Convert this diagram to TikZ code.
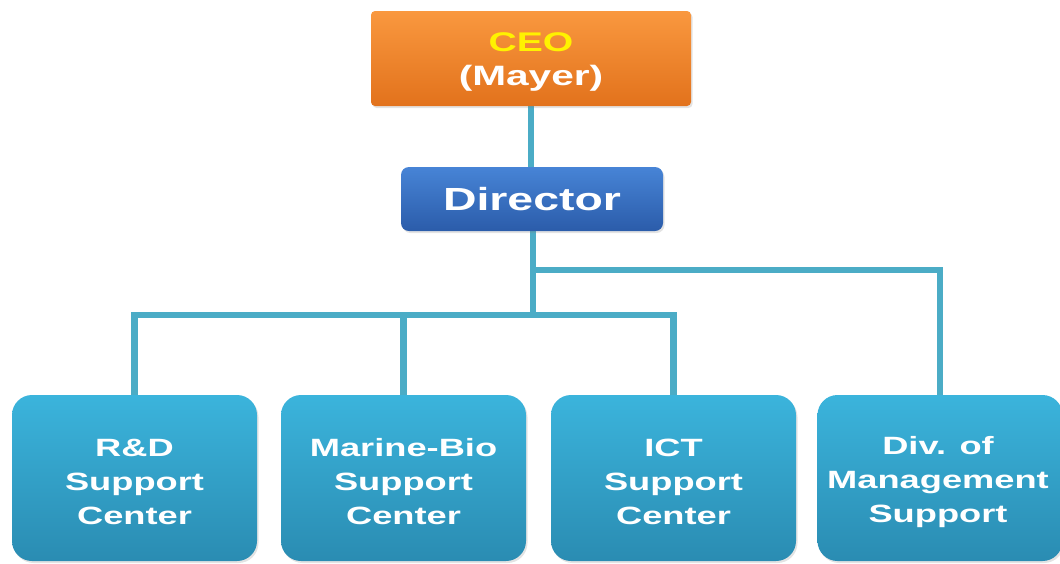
\documentclass[tikz,border=0pt]{standalone}
\usepackage{fontspec}
\setmainfont{Liberation Sans}
\usetikzlibrary{shadows,backgrounds}
\definecolor{ceoTop}{HTML}{F9983F}
\definecolor{ceoBot}{HTML}{E2721C}
\definecolor{dirTop}{HTML}{4784D6}
\definecolor{dirBot}{HTML}{2B5CAA}
\definecolor{unitTop}{HTML}{3BB4DC}
\definecolor{unitBot}{HTML}{2A8CB2}
\definecolor{conn}{HTML}{4BACC6}
\definecolor{ceoText}{HTML}{FFF200}
\newcommand\sx[1]{\scalebox{1.45}[1]{#1}}
\begin{document}
\begin{tikzpicture}[x=1pt,y=-1pt,
  box/.style={draw=none,inner sep=0pt,text=white,font=\bfseries,
    drop shadow={opacity=0.22,shadow xshift=1.5pt,shadow yshift=-2pt}},
  ceobox/.style={box,top color=ceoTop,bottom color=ceoBot,rounded corners=4pt,
    minimum width=320pt,minimum height=95pt},
  dirbox/.style={box,top color=dirTop,bottom color=dirBot,rounded corners=8pt,
    minimum width=262pt,minimum height=64pt},
  unitbox/.style={box,top color=unitTop,bottom color=unitBot,rounded corners=20pt,
    minimum width=245pt,minimum height=166pt},
  connector/.style={draw=conn,line width=6.5pt},
  utext/.style={text=white,font=\bfseries\fontsize{25}{34}\selectfont,inner sep=0pt,align=center}]
\useasboundingbox (0,0) rectangle (1060,563);
% boxes
\node[ceobox] (ceo) at (531,58.5) {};
\node[dirbox] (dir) at (532,199) {};
\node[unitbox] (rd) at (134.5,478) {};
\node[unitbox] (ms) at (403.5,478) {};
\node[unitbox] (ict) at (673.5,478) {};
\node[unitbox] (div) at (940,478) {};
% texts
\node[text=ceoText,font=\bfseries\fontsize{27}{30}\selectfont,inner sep=0pt] (ceot) at (531,42) {\sx{CEO}};
\node[text=white,font=\bfseries\fontsize{28}{30}\selectfont,inner sep=0pt] (ceom) at (531,78) {\sx{(Mayer)}};
\node[text=white,font=\bfseries\fontsize{32}{36}\selectfont,inner sep=0pt] (dirt) at (532,199) {\sx{Director}};
\node[utext] (rdt) at (134.5,482) {\sx{R\&D}\\\sx{Support}\\\sx{Center}};
\node[utext] (mst) at (403.5,482) {\sx{Marine-Bio}\\\sx{Support}\\\sx{Center}};
\node[utext] (ictt) at (673.5,482) {\sx{ICT}\\\sx{Support}\\\sx{Center}};
\node[utext] (divt) at (938,482) {\sx{Div. of}\\\sx{Management}\\\sx{Support}};
% connectors
\coordinate (j1) at (533,270);
\coordinate (j2) at (533,315);
\begin{pgfonlayer}{background}
\draw[connector] (ceo.south) -- (ceo.south |- dir.north);
\draw[connector] (j2 |- dir.south) -- (j2);
\draw[connector] (rd.north) |- (j2) -| (ict.north);
\draw[connector] (ms.north) -- (ms.north |- j2);
\draw[connector] (j1) -| (div.north);
\end{pgfonlayer}
\end{tikzpicture}
\end{document}
